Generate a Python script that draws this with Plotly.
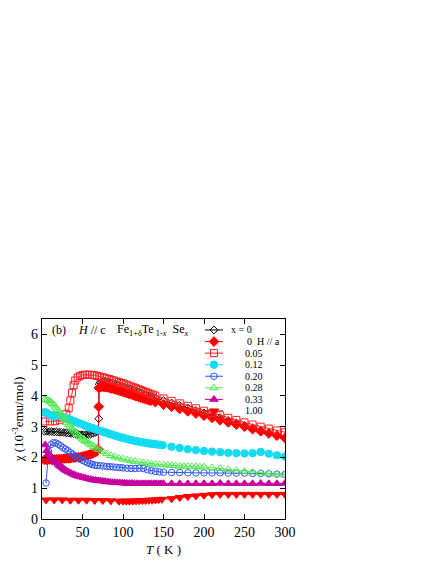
"""Susceptibility chi(T) of Fe1+dTe1-xSex, panel (b), H // c."""

import plotly.graph_objects as go

FONT = "Liberation Serif"

# x = 0, H // c (black open diamonds)
t_x0 = [3, 6, 9, 12, 15, 18, 21, 24, 27, 30, 33, 36, 39, 42, 45, 48, 51, 54, 57, 60, 63, 66,
        68, 69.5, 70, 70.5, 72, 74, 76, 78, 80,
        83, 86, 89, 92, 95, 98, 101, 104, 107, 110, 113, 116, 119, 122, 125, 128, 131, 134, 137, 140,
        150, 160, 170, 180, 190, 200, 210, 220, 230, 240, 250, 260, 270, 280, 290, 300]
chi_x0 = [2.85, 2.85, 2.84, 2.84, 2.83, 2.83, 2.82, 2.82, 2.81, 2.80, 2.79, 2.78, 2.77, 2.76, 2.75,
          2.74, 2.74, 2.74, 2.75, 2.76, 2.78, 2.81,
          2.85, 2.90, 3.26, 4.38, 4.44, 4.47, 4.48, 4.47, 4.46,
          4.44, 4.42, 4.39, 4.37, 4.34, 4.32, 4.29, 4.26, 4.24, 4.21, 4.18, 4.15, 4.12, 4.09, 4.07,
          4.04, 4.01, 3.98, 3.96, 3.93,
          3.85, 3.77, 3.69, 3.61, 3.53, 3.45, 3.37, 3.29, 3.20, 3.12, 3.04, 2.96, 2.87, 2.79, 2.71, 2.63]

# x = 0, H // a (red filled diamonds)
t_x0a = [3, 6, 9, 12, 15, 18, 21, 24, 27, 30, 33, 36, 39, 42, 45, 48, 51, 54, 57, 60, 63, 66,
         68, 69.5, 70, 70.3, 72, 74, 76, 78, 80,
         83, 86, 89, 92, 95, 98, 101, 104, 107, 110, 113, 116, 119, 122, 125, 128, 131, 134,
         140, 150, 160, 170, 180, 190, 200, 210, 220, 230, 240, 250, 260, 270, 280, 290, 300]
chi_x0a = [1.92, 1.92, 1.93, 1.93, 1.94, 1.94, 1.95, 1.95, 1.96, 1.97, 1.97, 1.98, 1.99, 2.00, 2.01,
           2.02, 2.04, 2.06, 2.08, 2.10, 2.13, 2.17,
           2.21, 2.26, 3.65, 4.26, 4.29, 4.30, 4.30, 4.29, 4.28,
           4.26, 4.24, 4.22, 4.20, 4.17, 4.15, 4.12, 4.10, 4.07, 4.05, 4.02, 3.99, 3.97, 3.94, 3.92,
           3.89, 3.87, 3.84,
           3.80, 3.72, 3.65, 3.58, 3.50, 3.43, 3.36, 3.29, 3.21, 3.14, 3.07, 3.00, 2.92, 2.85, 2.78,
           2.71, 2.63]

# x = 0.05 (red open squares)
t_x005 = [4, 10, 16, 22, 26, 30, 33, 35, 37, 39, 41, 44, 47, 50, 53, 56, 59, 62, 65, 68, 71, 74,
          77, 80, 83, 86, 89, 92, 95, 98, 101, 104, 107, 110, 113, 116, 119, 122, 125, 128, 131,
          134, 137, 140, 150, 160, 170, 180, 190, 200, 210, 220, 230, 240, 250, 260, 270, 280, 290, 300]
chi_x005 = [3.17, 3.17, 3.18, 3.21, 3.28, 3.42, 3.60, 3.85, 4.10, 4.35, 4.50, 4.60, 4.65, 4.68, 4.69,
            4.69, 4.69, 4.68, 4.67, 4.65, 4.63, 4.61, 4.59, 4.57, 4.55, 4.52, 4.50, 4.47, 4.45, 4.42,
            4.40, 4.37, 4.34, 4.31, 4.28, 4.25, 4.22, 4.19, 4.16, 4.13, 4.10, 4.07, 4.04, 4.01,
            3.92, 3.84, 3.76, 3.68, 3.60, 3.52, 3.44, 3.37, 3.29, 3.22, 3.14, 3.07, 3.00, 2.94, 2.88, 2.82]

# x = 0.12 (cyan filled circles)
t_x012 = [3, 5, 7, 9, 11, 13, 15, 17, 19, 21, 23, 25, 27, 29, 31, 33, 35, 38, 41, 44, 47, 50, 53,
          56, 59, 62, 65, 68, 71, 74, 77, 80, 83, 86, 89, 92, 95, 98, 101, 104, 107, 110, 113, 116,
          119, 122, 125, 128, 131, 134, 137, 140, 143, 146, 149,
          160, 170, 180, 190, 200, 210, 220, 230, 240, 250, 260, 270, 280, 290, 300]
chi_x012 = [3.47, 3.46, 3.42, 3.39, 3.37, 3.36, 3.36, 3.35, 3.35, 3.34, 3.33, 3.32, 3.30, 3.28, 3.26,
            3.24, 3.22, 3.19, 3.16, 3.13, 3.10, 3.07, 3.04, 3.01, 2.98, 2.96, 2.93, 2.90, 2.87, 2.85,
            2.82, 2.80, 2.77, 2.75, 2.72, 2.70, 2.67, 2.65, 2.63, 2.61, 2.59, 2.57, 2.55, 2.53, 2.52,
            2.50, 2.49, 2.48, 2.46, 2.45, 2.44, 2.43, 2.42, 2.41, 2.40,
            2.35, 2.31, 2.27, 2.24, 2.21, 2.19, 2.17, 2.15, 2.14, 2.13, 2.14, 2.18, 2.12, 2.07, 2.03]

# x = 0.20 (blue open circles)
t_x020 = [5, 8, 11, 14, 17, 20, 23, 26, 29, 32, 35, 38, 41, 44, 47, 50, 53, 56, 59, 62, 65, 68, 72,
          76, 80, 84, 88, 92, 96, 100, 105, 110, 115, 120, 125, 130, 135, 140, 145, 150,
          160, 170, 180, 190, 200, 210, 220, 230, 240, 250, 260, 270, 280, 290, 300]
chi_x020 = [1.17, 2.20, 2.42, 2.48, 2.47, 2.43, 2.38, 2.32, 2.27, 2.22, 2.16, 2.10, 2.05, 2.00, 1.95,
            1.91, 1.87, 1.83, 1.80, 1.77, 1.75, 1.74, 1.73, 1.72, 1.71, 1.70, 1.69, 1.68, 1.67, 1.66,
            1.65, 1.64, 1.64, 1.65, 1.64, 1.60, 1.57, 1.55, 1.53, 1.52,
            1.51, 1.51, 1.50, 1.50, 1.50, 1.50, 1.50, 1.49, 1.49, 1.49, 1.48, 1.48, 1.47, 1.46, 1.45]

# x = 0.28 (green open triangles)
t_x028 = [3, 5, 7, 9, 11, 13, 15, 17, 19, 21, 23, 25, 27, 29, 31, 33, 35, 37, 39, 41, 43, 45, 47,
          49, 51, 53, 55, 58, 61, 64, 67, 70, 75, 80, 85, 90, 95, 100, 105, 110, 115, 120, 125, 130,
          135, 140, 145, 150, 155, 160, 165, 170, 175, 180, 185, 190, 195, 200,
          210, 220, 230, 240, 250, 260, 270, 280, 290, 300]
chi_x028 = [3.88, 3.88, 3.86, 3.84, 3.80, 3.75, 3.70, 3.63, 3.56, 3.49, 3.42, 3.35, 3.28, 3.21, 3.14,
            3.07, 3.01, 2.95, 2.89, 2.83, 2.78, 2.73, 2.68, 2.63, 2.59, 2.55, 2.51, 2.46, 2.41, 2.36,
            2.31, 2.26, 2.19, 2.12, 2.06, 2.02, 1.98, 1.95, 1.92, 1.89, 1.87, 1.85, 1.83, 1.81, 1.79,
            1.78, 1.77, 1.76, 1.75, 1.74, 1.73, 1.72, 1.71, 1.71, 1.70, 1.70, 1.69, 1.69,
            1.67, 1.64, 1.61, 1.58, 1.55, 1.52, 1.50, 1.48, 1.46, 1.43]

# x = 0.33 (magenta filled triangles)
t_x033 = [4, 6, 8, 10, 12, 14, 16, 18, 20, 22, 24, 26, 28, 30, 33, 36, 39, 42, 45, 48, 51, 54, 57,
          60, 63, 66, 69, 72, 75, 78, 81, 84, 87, 90, 93, 96, 99, 102, 105, 108, 111, 114, 117, 120,
          123, 126, 129, 132, 135, 138, 141, 144, 147, 150,
          160, 170, 180, 190, 200, 210, 220, 230, 240, 250, 260, 270, 280, 290, 300]
chi_x033 = [2.41, 2.22, 2.12, 2.06, 2.00, 1.94, 1.88, 1.83, 1.78, 1.73, 1.69, 1.65, 1.61, 1.57, 1.53,
            1.49, 1.45, 1.42, 1.39, 1.37, 1.35, 1.33, 1.31, 1.29, 1.27, 1.26, 1.25, 1.24, 1.23, 1.22,
            1.21, 1.20, 1.19, 1.19, 1.18, 1.18, 1.17, 1.17, 1.16, 1.16, 1.16, 1.15, 1.15, 1.15, 1.15,
            1.15, 1.15, 1.15, 1.15, 1.15, 1.15, 1.15, 1.15, 1.15,
            1.15, 1.15, 1.15, 1.15, 1.15, 1.15, 1.16, 1.15, 1.15, 1.15, 1.15, 1.16, 1.15, 1.15, 1.16]

# x = 1.00 (red filled down triangles)
t_x100 = [5, 15, 25, 35, 45, 55, 65, 75, 85, 95, 100, 104, 108, 112, 116, 120, 124, 128, 132, 136,
          140, 144, 148, 160, 170, 180, 190, 200, 210, 220, 230, 240, 250, 260, 270, 280, 290, 300]
chi_x100 = [0.62, 0.62, 0.62, 0.61, 0.61, 0.61, 0.60, 0.60, 0.59, 0.58, 0.58, 0.58, 0.58, 0.58, 0.59,
            0.59, 0.60, 0.60, 0.61, 0.61, 0.62, 0.63, 0.64, 0.66, 0.70, 0.73, 0.75, 0.77, 0.79, 0.80,
            0.80, 0.80, 0.80, 0.80, 0.80, 0.80, 0.80, 0.80]

x_ticks = [0, 50, 100, 150, 200, 250, 300]
y_ticks = [0, 1, 2, 3, 4, 5, 6]

SERIES = [
    # label, T, chi, color, symbol, marker size
    ("x = 0", t_x0, chi_x0, "black", "diamond-open", 6),
    ("0  H // a", t_x0a, chi_x0a, "#ff0000", "diamond", 7.5),
    ("0.05", t_x005, chi_x005, "#ff2020", "square-open", 7),
    ("0.12", t_x012, chi_x012, "#14dcf0", "circle", 7.5),
    ("0.20", t_x020, chi_x020, "#2f55f5", "circle-open", 6.5),
    ("0.28", t_x028, chi_x028, "#4fe84f", "triangle-up-open", 7.5),
    ("0.33", t_x033, chi_x033, "#c8009e", "triangle-up", 7.5),
    ("1.00", t_x100, chi_x100, "#ff0000", "triangle-down", 8),
]

X_RANGE = [0, 300]
Y_RANGE = [0, 6.5]

# the page body adds an 8 px margin; positions below are screen pixels
PAGE = 8
LEFT, RIGHT, TOP, BOTTOM = 42, 285, 319, 519.5
W, H = 436 - PAGE, 564 - PAGE


def px_x(px):
    return (px - LEFT) / (RIGHT - LEFT)


def px_y(py):
    return (BOTTOM - py) / (BOTTOM - TOP)


def data_x(px):
    return X_RANGE[0] + px_x(px) * (X_RANGE[1] - X_RANGE[0])


def data_y(py):
    return Y_RANGE[0] + px_y(py) * (Y_RANGE[1] - Y_RANGE[0])


fig = go.Figure()

for label, t, chi, color, symbol, size in SERIES:
    fig.add_trace(
        go.Scatter(
            x=t,
            y=chi,
            mode="lines+markers",
            line={"color": color, "width": 1},
            marker={"symbol": symbol, "size": size, "color": color, "line": {"color": color, "width": 1}},
            showlegend=False,
            name=label,
        )
    )

# hand-made legend, compact like the original
row0, row_step = 330, 11.6
for i, (label, t, chi, color, symbol, size) in enumerate(SERIES):
    py = row0 + i * row_step
    fig.add_trace(
        go.Scatter(
            x=[data_x(205), data_x(223)],
            y=[data_y(py), data_y(py)],
            mode="lines",
            line={"color": color, "width": 1},
            showlegend=False,
            hoverinfo="skip",
        )
    )
    fig.add_trace(
        go.Scatter(
            x=[data_x(214)],
            y=[data_y(py)],
            mode="markers",
            marker={"symbol": symbol, "size": size, "color": color, "line": {"color": color, "width": 1}},
            showlegend=False,
            hoverinfo="skip",
        )
    )
    tx = 229 if i == 0 else 245 if i == 1 else 243
    fig.add_annotation(
        x=px_x(tx), y=px_y(py), xref="paper", yref="paper", xanchor="left", yanchor="middle",
        text=label, showarrow=False, font={"family": FONT, "size": 10, "color": "black"},
    )

top_y = px_y(330)
for tx, text in [
    (50, "(b)"),
    (76, "<i>H</i> // c"),
    (115, "Fe<sub>1+δ</sub>Te<sub> 1-<i>x</i></sub>  Se<sub><i>x</i></sub>"),
]:
    fig.add_annotation(x=px_x(tx), y=top_y, xref="paper", yref="paper", xanchor="left", yanchor="middle",
                       text=text, showarrow=False, font={"family": FONT, "size": 12, "color": "black"})

axis_common = dict(
    showline=True,
    linecolor="black",
    linewidth=1.3,
    mirror="ticks",
    ticks="inside",
    ticklen=5,
    tickwidth=1.2,
    tickcolor="black",
    showgrid=False,
    zeroline=False,
    automargin=False,
    tickfont={"family": FONT, "size": 14, "color": "black"},
)

fig.update_layout(
    width=W,
    height=H,
    margin={"l": LEFT - PAGE, "r": 436 - RIGHT, "t": TOP - PAGE, "b": 564 - BOTTOM, "pad": 0},
    paper_bgcolor="white",
    plot_bgcolor="white",
    showlegend=False,
    xaxis=dict(
        axis_common,
        range=X_RANGE,
        tickvals=x_ticks,
        title={"text": "<i>T</i> ( K )", "font": {"family": FONT, "size": 13, "color": "black"}, "standoff": 5},
    ),
    yaxis=dict(
        axis_common,
        range=Y_RANGE,
        tickvals=y_ticks,
        title={"text": "χ (10<sup>-3</sup>emu/mol)", "font": {"family": FONT, "size": 13, "color": "black"},
               "standoff": 4},
    ),
)

fig.write_html("out.html")
